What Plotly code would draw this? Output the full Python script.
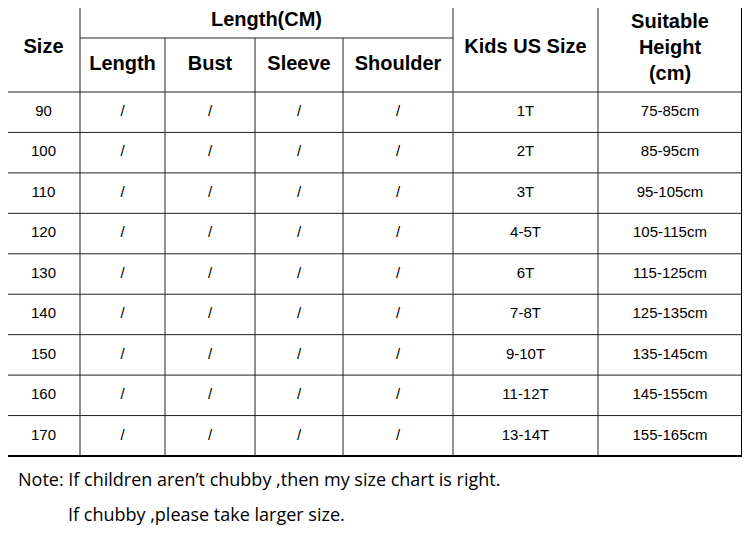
import plotly.graph_objects as go

sizes = ["90", "100", "110", "120", "130", "140", "150", "160", "170"]
length = ["/"] * 9
bust = ["/"] * 9
sleeve = ["/"] * 9
shoulder = ["/"] * 9
kids_us = ["1T", "2T", "3T", "4-5T", "6T", "7-8T", "9-10T", "11-12T", "13-14T"]
height = ["75-85cm", "85-95cm", "95-105cm", "105-115cm", "115-125cm",
          "125-135cm", "135-145cm", "145-155cm", "155-165cm"]
sub_headers = ["Length", "Bust", "Sleeve", "Shoulder"]
note1 = "Note: If children aren’t chubby ,then my size chart is right."
note2 = "If chubby ,please take larger size."

# table geometry (pixels)
col_edges = [7, 80, 165, 255, 343, 453, 598, 742]
top, mid, head_bot = 5, 38, 92
row_h = (456 - head_bot) / 9
row_edges = [head_bot + i * row_h for i in range(10)]
centers = [(col_edges[i] + col_edges[i + 1]) / 2 for i in range(7)]
row_y = [(row_edges[i] + row_edges[i + 1]) / 2 for i in range(9)]

fig = go.Figure()
shapes = []
line_c = "#222"
for y in row_edges[1:-1]:
    shapes.append(dict(type="line", x0=col_edges[0], x1=col_edges[-1], y0=y, y1=y, line=dict(color=line_c, width=1)))
shapes.append(dict(type="line", x0=col_edges[0], x1=col_edges[-1], y0=head_bot, y1=head_bot, line=dict(color=line_c, width=1)))
shapes.append(dict(type="line", x0=80, x1=453, y0=mid, y1=mid, line=dict(color=line_c, width=1)))
for x in [80, 453, 598]:
    shapes.append(dict(type="line", x0=x, x1=x, y0=top, y1=row_edges[-1], line=dict(color=line_c, width=1)))
for x in [165, 255, 343]:
    shapes.append(dict(type="line", x0=x, x1=x, y0=mid, y1=row_edges[-1], line=dict(color=line_c, width=1)))
shapes.append(dict(type="rect", x0=col_edges[0], x1=col_edges[-1], y0=top, y1=row_edges[-1], line=dict(color="black", width=2)))

body_font = dict(family="Liberation Sans, Arial", size=15, color="black")
cols = [sizes, length, bust, sleeve, shoulder, kids_us, height]
for cx, vals in zip(centers, cols):
    fig.add_trace(go.Scatter(x=[cx] * len(vals), y=row_y, mode="text", text=vals,
                             textfont=body_font, hoverinfo="skip"))

head_font = dict(family="Liberation Sans, Arial", size=20, color="black")
hx = [centers[0], (80 + 453) / 2] + centers[1:5] + [centers[5], centers[6]]
hy = [48, 21, 65, 65, 65, 65, 48, 49]
ht = ["<b>Size</b>", "<b>Length(CM)</b>"] + [f"<b>{s}</b>" for s in sub_headers] + \
     ["<b>Kids US Size</b>", "<b>Suitable<br>Height<br>(cm)</b>"]
fig.add_trace(go.Scatter(x=hx, y=hy, mode="text", text=ht, textfont=head_font, hoverinfo="skip"))

note_font = dict(family="Open Sans, Noto Sans", size=18, color="black")
fig.add_trace(go.Scatter(x=[18, 68], y=[481, 516], mode="text", text=[note1, note2],
                         textposition="middle right", textfont=note_font, hoverinfo="skip"))

# page body has an 8px margin, so offset the ranges to keep pixel coordinates
fig.update_layout(
    width=750, height=538, margin=dict(l=0, r=0, t=0, b=0),
    paper_bgcolor="white", plot_bgcolor="white", showlegend=False, shapes=shapes,
    xaxis=dict(range=[8, 758], visible=False, fixedrange=True),
    yaxis=dict(range=[546, 8], visible=False, fixedrange=True),
)
fig.write_html("out.html")
